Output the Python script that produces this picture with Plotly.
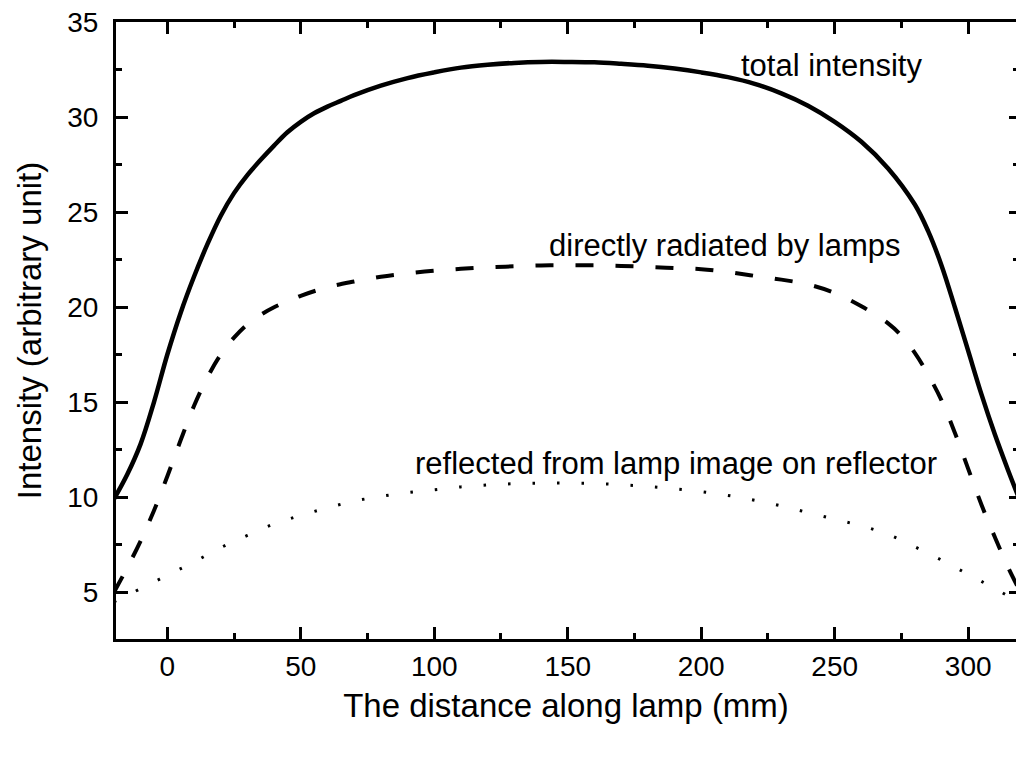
import plotly.graph_objects as go

# ---- data ----
x_total = [-20, -15, -10, -5, 0, 5, 10, 15, 20, 25, 30, 35, 40, 45, 50, 55, 60, 65, 70, 80,
           90, 100, 110, 120, 130, 140, 150, 160, 170, 180, 190, 200, 210, 220, 230, 240,
           250, 260, 270, 280, 285, 290, 295, 300, 305, 310, 315, 320]
y_total = [9.9, 11.2, 12.8, 15.0, 17.5, 19.7, 21.6, 23.3, 24.8, 26.0, 26.95, 27.75, 28.5,
           29.2, 29.75, 30.2, 30.55, 30.85, 31.15, 31.65, 32.05, 32.35, 32.6, 32.75, 32.85,
           32.9, 32.9, 32.88, 32.8, 32.7, 32.55, 32.35, 32.1, 31.75, 31.25, 30.6, 29.75,
           28.7, 27.3, 25.4, 24.0, 22.2, 20.0, 17.7, 15.4, 13.3, 11.4, 9.6]

x_direct = [-20, -15, -10, -5, 0, 5, 10, 15, 20, 25, 30, 35, 40, 45, 50, 60, 70, 80, 90,
            100, 110, 120, 130, 140, 150, 160, 170, 180, 190, 200, 210, 220, 230, 240, 250,
            260, 270, 275, 280, 285, 290, 295, 300, 305, 310, 315, 320]
y_direct = [5.0, 6.3, 7.7, 9.3, 11.1, 13.0, 14.8, 16.3, 17.5, 18.4, 19.1, 19.6, 20.0, 20.3,
            20.6, 21.05, 21.35, 21.6, 21.78, 21.92, 22.02, 22.1, 22.15, 22.2, 22.2, 22.2,
            22.17, 22.12, 22.06, 22.0, 21.85, 21.65, 21.45, 21.2, 20.75, 20.05, 19.15, 18.5,
            17.6, 16.45, 15.1, 13.4, 11.5, 9.6, 7.9, 6.3, 4.9]

x_refl = [-20, -10, 0, 10, 20, 30, 40, 50, 60, 70, 80, 90, 100, 110, 120, 130, 140, 150,
          160, 170, 180, 190, 200, 210, 220, 230, 240, 250, 260, 270, 280, 290, 300, 310, 320]
y_refl = [4.5, 5.2, 5.9, 6.6, 7.35, 8.0, 8.6, 9.05, 9.45, 9.8, 10.05, 10.25, 10.4, 10.55,
          10.65, 10.72, 10.75, 10.75, 10.73, 10.66, 10.57, 10.45, 10.3, 10.1, 9.85, 9.55,
          9.2, 8.85, 8.5, 8.05, 7.4, 6.7, 5.95, 5.2, 4.4]

labels = ["total intensity", "directly radiated by lamps",
          "reflected from lamp image on reflector"]
label_x = [248.7, 209, 190.4]
label_y = [32.7, 23.25, 11.8]

x_ticks = [0, 50, 100, 150, 200, 250, 300]
y_ticks = [5, 10, 15, 20, 25, 30, 35]

FONT = "Arial, Liberation Sans, sans-serif"

fig = go.Figure()
fig.add_trace(go.Scatter(x=x_total, y=y_total, mode="lines", name="total intensity",
                         line=dict(color="black", width=4.5, shape="spline", smoothing=1.0)))
fig.add_trace(go.Scatter(x=x_direct, y=y_direct, mode="lines", name="directly radiated by lamps",
                         line=dict(color="black", width=4, dash="18px,22px",
                                   shape="spline", smoothing=1.0)))
fig.add_trace(go.Scatter(x=x_refl, y=y_refl, mode="lines",
                         name="reflected from lamp image on reflector",
                         line=dict(color="black", width=3, dash="2.5px,22px",
                                   shape="spline", smoothing=1.0)))
# invisible helper trace so the right-hand tick axis is drawn
fig.add_trace(go.Scatter(x=[None], y=[None], yaxis="y2", mode="lines",
                         showlegend=False, hoverinfo="skip"))

for t, lx, ly in zip(labels, label_x, label_y):
    fig.add_annotation(x=lx, y=ly, text=t, showarrow=False, xanchor="center",
                       yanchor="middle", font=dict(family=FONT, size=31, color="black"))

fig.update_layout(
    width=1016, height=757,
    margin=dict(l=116, r=0, t=22, b=118),
    paper_bgcolor="white", plot_bgcolor="white",
    showlegend=False,
    font=dict(family=FONT, color="black"),
    xaxis=dict(
        range=[-19.2, 317.9], tickvals=x_ticks, ticktext=[str(v) for v in x_ticks],
        ticks="inside", ticklen=12, tickwidth=3, tickcolor="black",
        minor=dict(tickvals=[v + 25 for v in [-50] + x_ticks], ticks="inside", ticklen=6,
                   tickwidth=3, tickcolor="black"),
        showline=True, linewidth=3, linecolor="black", mirror="ticks",
        showgrid=False, zeroline=False,
        tickfont=dict(family=FONT, size=28, color="black"),
        ticklabelstandoff=0,
        title=dict(text="The distance along lamp (mm)",
                   font=dict(family=FONT, size=33, color="black"), standoff=14),
    ),
    yaxis=dict(
        range=[2.55, 35], tickvals=y_ticks, ticktext=[str(v) for v in y_ticks],
        ticks="inside", ticklen=12, tickwidth=3, tickcolor="black",
        minor=dict(tickvals=[v + 2.5 for v in y_ticks[:-1]], ticks="inside", ticklen=6,
                   tickwidth=3, tickcolor="black"),
        showline=True, linewidth=3, linecolor="black", mirror=False,
        showgrid=False, zeroline=False,
        tickfont=dict(family=FONT, size=28, color="black"),
        ticklabelstandoff=9,
        title=dict(text="Intensity (arbitrary unit)",
                   font=dict(family=FONT, size=33, color="black"), standoff=16),
    ),
    yaxis2=dict(
        overlaying="y", side="right", range=[2.55, 35], tickvals=y_ticks,
        showticklabels=False, ticks="inside", ticklen=7, tickwidth=3, tickcolor="black",
        minor=dict(tickvals=[v + 2.5 for v in y_ticks[:-1]], ticks="inside", ticklen=3,
                   tickwidth=3, tickcolor="black"),
        showline=False, showgrid=False, zeroline=False,
    ),
)

fig.write_html("out.html")
